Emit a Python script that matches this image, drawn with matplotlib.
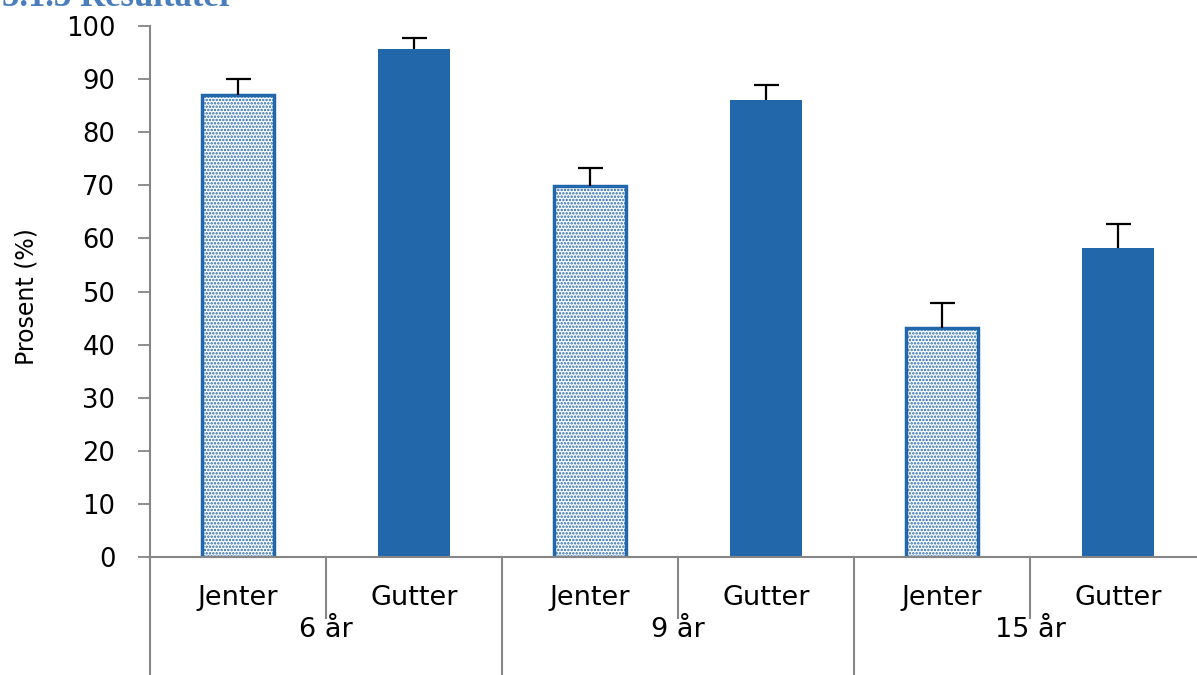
import matplotlib.pyplot as plt
import matplotlib.transforms as mtransforms

plt.rcParams['font.family'] = ['DejaVu Sans']
plt.rcParams['hatch.linewidth'] = 1.2

# data
groups = ['6 år', '9 år', '15 år']
sexes = ['Jenter', 'Gutter']
values = [87.0, 95.7, 69.9, 86.1, 43.1, 58.2]
errors = [3.0, 2.0, 3.4, 2.8, 4.7, 4.5]

blue = '#2367ab'
gray = '#868686'

fig = plt.figure(figsize=(11.97, 6.75), dpi=100)
ax = fig.add_axes([150 / 1197, 118 / 675, 1056 / 1197, 531 / 675])

x = list(range(len(values)))
for i in x:
    if i % 2 == 0:
        ax.bar(i, values[i], width=0.41, facecolor='white', edgecolor=blue,
               hatch='.....', linewidth=2.5, zorder=2)
    else:
        ax.bar(i, values[i], width=0.41, color=blue, zorder=2)
    # upper error bar only, cap on top
    ax.vlines(i, values[i], values[i] + errors[i], color='black', lw=1.6, zorder=3)
    ax.plot([i], [values[i] + errors[i]], marker='_', markersize=18,
            mew=1.6, color='black', zorder=3)

ax.set_xlim(-0.5, 5.5)
ax.set_ylim(0, 100)
ax.set_yticks(range(0, 101, 10))
ax.tick_params(axis='y', direction='out', length=9, width=1.3, color=gray,
               labelsize=18.5, pad=16)
ax.set_xticks([])
for s in ['top', 'right']:
    ax.spines[s].set_visible(False)
for s in ['left', 'bottom']:
    ax.spines[s].set_color(gray)
    ax.spines[s].set_linewidth(1.5)
ax.set_ylabel('Prosent (%)', fontsize=17)
ax.yaxis.set_label_coords(-0.106, 0.49)

trans = mtransforms.blended_transform_factory(ax.transData, ax.transAxes)
# category separators
for sep in [0.5, 2.5, 4.5]:
    ax.plot([sep, sep], [0, -0.115], transform=trans, color=gray, lw=1.5, clip_on=False)
for sep in [-0.5, 1.5, 3.5, 5.5]:
    ax.plot([sep, sep], [0, -0.25], transform=trans, color=gray, lw=1.5, clip_on=False)

for i in x:
    ax.text(i, -0.077, sexes[i % 2], transform=trans, ha='center', va='center',
            fontsize=19.5)
for g, name in enumerate(groups):
    ax.text(2 * g + 0.5, -0.138, name, transform=trans, ha='center', va='center',
            fontsize=19.5)

fig.text(2 / 1197, 1 - 6 / 675, '5.1.3 Resultater', fontsize=25, fontweight='bold',
         family=['Liberation Serif', 'DejaVu Serif'], color='#4a7ebb',
         ha='left', va='baseline')

fig.savefig('out.png', dpi=100)
